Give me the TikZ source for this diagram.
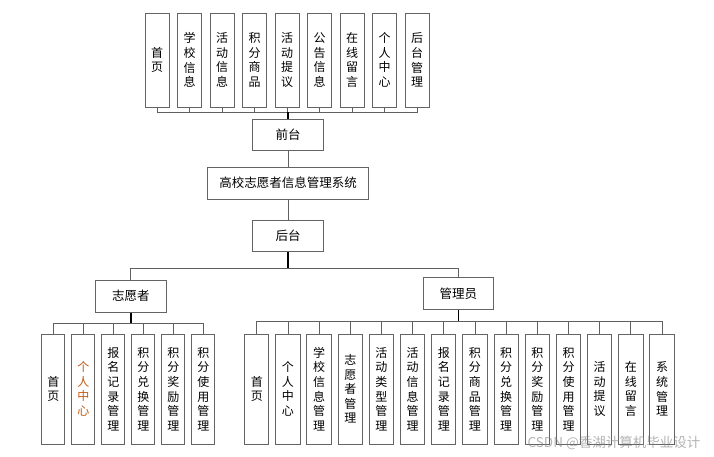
\documentclass[tikz,border=0pt]{standalone}
\usepackage{fontspec}
\newfontfamily\cjk{Noto Sans CJK SC}
\usetikzlibrary{positioning}
\definecolor{leaforange}{RGB}{197,90,17}
\definecolor{boxgray}{RGB}{100,100,100}

\begin{document}
\begin{tikzpicture}[x=1pt, y=-1pt,
  box/.style={draw=boxgray, line width=1pt, fill=white, inner sep=0pt, minimum width=71pt, minimum height=31pt, font=\cjk\fontsize{12.5}{15}\selectfont},
  leaf/.style={box, minimum width=24pt, align=center, font=\cjk\fontsize{12}{14.6}\selectfont},
  link/.style={draw=gray!75!black, line width=0.9pt},
  trunk/.style={draw=black, line width=1.6pt}
]
\useasboundingbox (0,0) rectangle (714,456);

% middle column
\node[box] (front) at (288,134.5) {前台};
\node[box, minimum width=161pt, minimum height=32pt] (sys) at (288,183) {高校志愿者信息管理系统};
\node[box] (back) at (288,236) {后台};
\node[box, minimum height=32pt] (vol) at (130.8,296) {志愿者};
\node[box, minimum width=70pt, minimum height=32pt] (adm) at (458.3,293.3) {管理员};

\coordinate (fbus) at (288,112);
\coordinate (mbus) at (288,268.3);
\coordinate (vbus) at (130.8,323.3);
\coordinate (abus) at (458.3,321);

% front-end modules
\foreach \txt [count=\i] in {{首\\页},{学\\校\\信\\息},{活\\动\\信\\息},{积\\分\\商\\品},{活\\动\\提\\议},{公\\告\\信\\息},{在\\线\\留\\言},{个\\人\\中\\心},{后\\台\\管\\理}}
{
  \node[leaf, minimum height=94pt] (t\i) at ({157+32.5*(\i-1)},60) {\txt};
  \draw[link] (t\i.south) |- (fbus);
}

% volunteer modules
\foreach \txt/\col [count=\i] in {{首\\页}/black,{个\\人\\中\\心}/leaforange,{报\\名\\记\\录\\管\\理}/black,{积\\分\\兑\\换\\管\\理}/black,{积\\分\\奖\\励\\管\\理}/black,{积\\分\\使\\用\\管\\理}/black}
{
  \node[leaf, minimum width=23.3pt, minimum height=110pt, text=\col] (v\i) at ({53.3+30*(\i-1)},389) {\txt};
  \draw[link] (vbus) -| (v\i.north);
}

% administrator modules
\foreach \txt [count=\i] in {{首\\页},{个\\人\\中\\心},{学\\校\\信\\息\\管\\理},{志\\愿\\者\\管\\理},{活\\动\\类\\型\\管\\理},{活\\动\\信\\息\\管\\理},{报\\名\\记\\录\\管\\理},{积\\分\\商\\品\\管\\理},{积\\分\\兑\\换\\管\\理},{积\\分\\奖\\励\\管\\理},{积\\分\\使\\用\\管\\理},{活\\动\\提\\议},{在\\线\\留\\言},{系\\统\\管\\理}}
{
  \node[leaf, minimum width=24.3pt, minimum height=110pt] (a\i) at ({256.8+31.17*(\i-1)},389) {\txt};
  \draw[link] (abus) -| (a\i.north);
}

% trunks
\draw[trunk] (fbus) -- (front.north);
\draw[link] (front.south) -- (sys.north);
\draw[link] (sys.south) -- (back.north);
\draw[trunk] (back.south) -- (mbus);
\draw[link] (mbus) -| (vol.north);
\draw[link] (mbus) -| (adm.north);
\draw[trunk] (vol.south) -- (vbus);
\draw[trunk] (adm.south) -- (abus);

\node[text=gray, opacity=0.6, font=\cjk\fontsize{13.5}{15}\selectfont] (mark) at (614,443) {CSDN @香湖计算机毕业设计};
\end{tikzpicture}
\end{document}
